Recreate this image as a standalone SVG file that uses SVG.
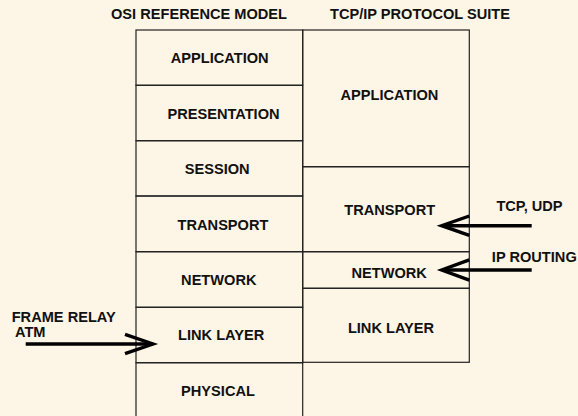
<svg xmlns="http://www.w3.org/2000/svg" width="578" height="416" viewBox="0 0 578 416">
  <style>
    text { font-family: "Liberation Sans", Arial, sans-serif; font-weight: bold; font-size: 14.6px; fill: #111; }
    .mid { text-anchor: middle; }
    .cell { fill: none; stroke: #222; stroke-width: 1.2; }
    .arrow { fill: none; stroke: #000; stroke-width: 3.4; stroke-linecap: butt; stroke-linejoin: miter; }
  </style>
  <rect width="578" height="416" fill="#FDF5E6"/>

  <!-- column headings -->
  <g id="heading-osi"><text class="mid" x="199" y="19">OSI REFERENCE MODEL</text></g>
  <g id="heading-tcpip"><text class="mid" x="420" y="19">TCP/IP PROTOCOL SUITE</text></g>

  <!-- OSI layers -->
  <g id="osi-application">
    <rect class="cell" x="136" y="30" width="166.7" height="55.3"/>
    <text class="mid" x="219.7" y="63.3">APPLICATION</text>
  </g>
  <g id="osi-presentation">
    <rect class="cell" x="136" y="85.3" width="166.7" height="55.4"/>
    <text class="mid" x="223.5" y="119.3">PRESENTATION</text>
  </g>
  <g id="osi-session">
    <rect class="cell" x="136" y="140.7" width="166.7" height="55.3"/>
    <text class="mid" x="217.2" y="174.3">SESSION</text>
  </g>
  <g id="osi-transport">
    <rect class="cell" x="136" y="196" width="166.7" height="55.7"/>
    <text class="mid" x="223" y="230">TRANSPORT</text>
  </g>
  <g id="osi-network">
    <rect class="cell" x="136" y="251.7" width="166.7" height="55.6"/>
    <text class="mid" x="218.8" y="285">NETWORK</text>
  </g>
  <g id="osi-link">
    <rect class="cell" x="136" y="307.3" width="166.7" height="55.4"/>
    <text class="mid" x="221.2" y="340">LINK LAYER</text>
  </g>
  <g id="osi-physical">
    <rect class="cell" x="136" y="362.7" width="166.7" height="60"/>
    <text class="mid" x="218" y="395.7">PHYSICAL</text>
  </g>

  <!-- TCP/IP layers -->
  <g id="tcp-application">
    <rect class="cell" x="302.7" y="30" width="166.6" height="136.7"/>
    <text class="mid" x="389.5" y="100">APPLICATION</text>
  </g>
  <g id="tcp-transport">
    <rect class="cell" x="302.7" y="166.7" width="166.6" height="85"/>
    <text class="mid" x="389.7" y="215">TRANSPORT</text>
  </g>
  <g id="tcp-network">
    <rect class="cell" x="302.7" y="251.7" width="166.6" height="36.6"/>
    <text class="mid" x="389.2" y="278.3">NETWORK</text>
  </g>
  <g id="tcp-link">
    <rect class="cell" x="302.7" y="288.3" width="166.6" height="74"/>
    <text class="mid" x="391" y="332.7">LINK LAYER</text>
  </g>

  <!-- side labels -->
  <g id="label-frame-relay">
    <text x="11.7" y="321.7">FRAME RELAY</text>
    <text x="15" y="336.7">ATM</text>
  </g>
  <g id="label-tcp-udp"><text class="mid" x="529.5" y="210.7">TCP, UDP</text></g>
  <g id="label-ip-routing"><text class="mid" x="534.3" y="262.3">IP ROUTING</text></g>

  <!-- connectors -->
  <g id="connectors">
    <path class="arrow" d="M25.7 344 H152"/>
    <path class="arrow" d="M125 334.3 L153 344 L125 353.7"/>
    <path class="arrow" d="M531.7 225.7 H443"/>
    <path class="arrow" d="M469.3 216 L441.7 225.7 L469.3 235.4"/>
    <path class="arrow" d="M531.7 270 H443"/>
    <path class="arrow" d="M469.3 259.8 L441.7 270 L469.3 280.2"/>
  </g>
</svg>
